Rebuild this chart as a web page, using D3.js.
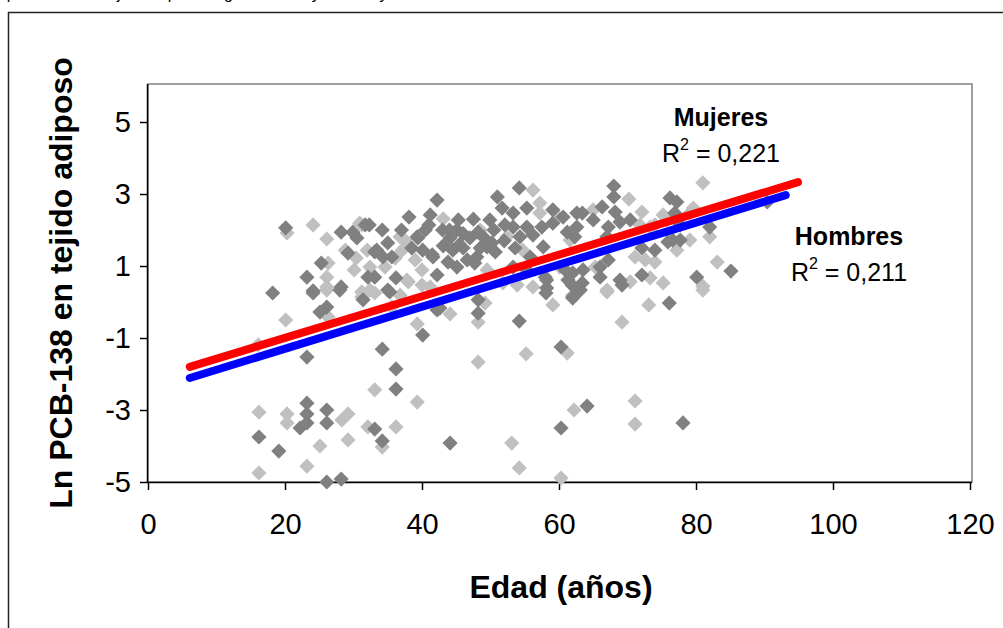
<!DOCTYPE html>
<html><head><meta charset="utf-8">
<script src="https://cdn.jsdelivr.net/npm/d3@7"></script>
<style>
html,body{margin:0;padding:0;background:#fff;}
svg{display:block;font-family:Arial,"Liberation Sans",sans-serif;}
</style></head>
<body>
<svg id="chart" width="1003" height="628"></svg>
<script>
// ---- data ----
const xTicks = [0, 20, 40, 60, 80, 100, 120];
const yTicks = [-5, -3, -1, 1, 3, 5];
const xTitle = "Edad (años)";
const yTitle = "Ln PCB-138 en tejido adiposo";
const topCaption = "presentes en tejido adiposo según la edad y el sexo y";

// dark grey points [edad, ln PCB-138]
const darkPoints = [
 [16.2,-3.75],[19.1,-4.14],[23.2,-1.53],[23.2,-2.81],[23.2,-3.11],[23.2,-3.36],[22.2,-3.5],
 [26.1,-3.0],[26.1,-3.36],[26.1,-5.0],[28.2,-4.92],[33.1,-3.53],[34.2,-3.86],[34.2,-1.31],
 [36.2,-1.86],[36.2,-2.42],[40.1,-0.92],[25.1,-0.28],[26.1,-0.14],[18.2,0.25],[24.1,0.25],
 [28.0,0.33],[35.3,0.28],[42.2,-0.22],[48.2,0.06],[48.2,-0.31],[42.6,-0.17],[54.2,-0.53],
 [60.3,-1.25],[62.0,0.11],[58.1,0.25],[76.1,-0.03],[44.1,-3.92],[60.3,-3.5],[64.1,-2.89],
 [78.1,-3.36],[31.4,0.06],
 [20.1,2.06],[28.2,1.94],[29.9,1.94],[30.5,1.78],[31.7,2.14],[29.2,1.36],[25.3,1.08],
 [23.2,0.69],[24.1,0.31],[28.2,0.42],[32.1,0.69],[38.1,2.36],[42.2,2.83],[41.2,2.42],
 [41.0,2.14],[45.3,2.28],[45.1,2.0],[44.1,1.78],[43.1,1.56],[39.4,1.78],[40.1,1.44],
 [32.3,2.14],[34.2,2.0],[33.4,1.44],[35.0,1.64],[35.6,1.25],[33.1,0.69],[36.2,0.67],
 [42.2,0.75],[41.6,1.25],[45.1,0.97],[43.8,1.11],[47.0,1.78],[46.6,1.17],[47.7,1.08],
 [48.2,1.94],[50.2,1.64],[49.9,2.28],[51.0,2.92],[51.7,2.61],[52.1,2.14],[53.3,2.08],
 [53.6,1.5],[55.3,2.61],[55.3,2.08],[54.2,3.17],[56.2,1.86],[57.5,2.08],[59.1,2.56],
 [59.1,2.19],[60.6,2.36],[61.2,1.94],[62.6,2.47],[62.3,1.81],[55.8,1.25],[50.7,1.39],
 [49.5,1.53],[44.5,1.44],[58.2,0.39],[58.0,0.69],[60.9,0.89],[61.3,0.61],[35.0,0.33],
 [39.3,1.81],[33.1,1.39],[34.3,1.25],[41.5,1.31],[46.0,1.5],[48.0,1.25],[53.3,2.47],
 [54.3,1.81],[53.3,0.97],[55.3,0.89],
 [44.0,2.0],[46.0,1.9],[47.5,2.3],[49.0,1.8],[50.5,2.0],[52.0,1.7],[45.5,1.6],[48.5,1.5],
 [43.0,2.0],[40.5,2.0],[38.5,1.5],[37.0,2.0],
 [68.0,3.22],[68.0,2.92],[66.3,2.64],[63.4,2.47],[65.0,2.28],[68.2,2.5],[68.9,2.22],
 [67.2,2.08],[70.4,2.28],[76.2,2.89],[77.2,2.78],[76.9,2.47],[77.7,2.14],[82.0,2.08],
 [76.6,1.72],[75.9,1.67],[74.0,1.44],[72.1,1.5],[67.2,1.17],[66.0,0.97],[66.0,0.69],
 [68.9,0.61],[69.2,0.47],[72.1,0.75],[80.1,0.69],[85.1,0.86],[62.0,0.81],[63.4,0.53],
 [62.0,0.14],[62.6,2.08],[90.4,2.78],[77.7,1.72],[57.7,1.53],[67.0,1.81],[63.5,0.89],
 [58.2,0.61],[61.9,0.47],[63.1,0.33]
];

// light grey points [edad, ln PCB-138]
const lightPoints = [
 [16.2,-3.06],[16.2,-4.75],[20.1,-0.5],[16.1,-1.19],[20.3,-3.11],[20.3,-3.36],[23.2,-4.56],
 [28.3,-3.28],[29.2,-3.11],[25.1,-4.0],[29.2,-3.83],[32.1,-3.47],[34.2,-4.03],[36.2,-3.47],
 [33.1,-2.44],[39.3,-2.78],[39.3,-0.61],[26.1,0.33],[31.2,0.14],[33.1,0.25],[36.8,0.19],
 [49.2,-0.03],[48.2,-0.56],[44.1,-0.33],[48.2,-1.67],[55.2,-1.44],[61.2,-1.42],[59.1,-0.08],
 [67.0,0.28],[69.2,-0.56],[73.1,-0.08],[81.0,0.33],[53.1,-3.92],[54.2,-4.61],[60.3,-4.89],
 [62.2,-3.0],[71.1,-2.75],[71.1,-3.39],
 [20.3,1.92],[24.1,2.14],[26.1,1.75],[30.9,2.19],[30.4,1.22],[30.1,0.89],[26.3,1.08],
 [26.1,0.69],[26.1,0.42],[31.2,0.28],[26.3,-0.42],[32.0,1.44],[43.1,2.31],[37.5,1.72],
 [37.1,1.44],[31.2,2.14],[32.4,0.97],[34.6,0.97],[38.0,0.56],[40.0,0.47],[39.0,1.17],
 [48.5,2.0],[52.4,1.81],[56.2,3.11],[57.2,2.75],[57.2,2.47],[59.9,2.36],[61.6,1.72],
 [54.7,1.44],[53.9,0.47],[56.2,0.42],[60.1,0.97],[62.0,0.19],[41.2,0.42],[35.6,-0.14],
 [36.8,1.81],[28.8,1.44],[36.1,1.22],[49.5,0.89],[40.0,0.89],[37.8,0.61],[32.4,0.33],
 [51.8,0.53],
 [70.2,2.86],[72.1,2.5],[71.8,2.14],[75.2,2.42],[79.1,2.47],[74.0,2.14],[82.0,1.81],
 [79.1,1.72],[71.1,1.25],[72.6,1.17],[74.0,1.11],[77.2,1.44],[65.3,0.97],[67.0,0.33],
 [70.4,0.56],[73.3,0.67],[75.2,0.53],[81.0,0.44],[83.1,1.11],[63.1,0.33],[81.0,3.31],
 [79.6,2.61],[65.0,2.56],[73.3,2.08],[75.8,2.28]
];

// linear trend lines: [x start, y start, x end, y end]
const trendHombres = [6.1, -2.11, 93.1, 2.97];
const trendMujeres = [6.1, -1.80, 94.9, 3.33];
const labelMujeres = ["Mujeres", "0,221"];
const labelHombres = ["Hombres", "0,211"];

// ---- drawing ----
const svg = d3.select("#chart");
const x = d3.scaleLinear().domain([0, 120]).range([148, 970]);
const y = d3.scaleLinear().domain([-5, 6]).range([482, 86]);
const FONT = "Arial, 'Liberation Sans', sans-serif";

// outer frame
svg.append("rect").attr("x", 8.5).attr("y", 12.5).attr("width", 1010).attr("height", 630)
  .attr("fill", "none").attr("stroke", "#222").attr("stroke-width", 1.5);

// cut-off caption at top (as in the reference, only its lower part is visible)
svg.append("text").attr("x", 8).attr("y", -1).attr("font-style", "italic")
  .attr("font-size", 16).attr("fill", "#000").text(topCaption);

// plot area frame
svg.append("rect").attr("x", x(0)).attr("y", y(6) - 2).attr("width", x(120) + 2 - x(0))
  .attr("height", y(-5) - y(6) + 2).attr("fill", "none").attr("stroke", "#808080").attr("stroke-width", 1.5);

// axes
const yAxis = d3.axisLeft(y).tickValues(yTicks).tickSize(8).tickPadding(9)
  .tickFormat(d => d < 0 ? "-" + Math.abs(d) : d);
const gy = svg.append("g").attr("transform", `translate(${x(0)},0)`).call(yAxis);
gy.select(".domain").attr("d", `M-0.5,${y(6)-2}V${y(-5)}`).attr("stroke", "#000").attr("stroke-width", 1.5);
gy.selectAll(".tick line").attr("stroke", "#000").attr("stroke-width", 1.5);
gy.selectAll(".tick text").attr("font-size", 29).attr("font-family", FONT).attr("fill", "#000");

const xAxis = d3.axisBottom(x).tickValues(xTicks).tickSize(8).tickPadding(23);
const gx = svg.append("g").attr("transform", `translate(0,${y(-5)})`).call(xAxis);
gx.select(".domain").attr("d", `M${x(0)},0.5H${x(120)+2}`).attr("stroke", "#000").attr("stroke-width", 1.5);
gx.selectAll(".tick line").attr("stroke", "#000").attr("stroke-width", 1.5);
gx.selectAll(".tick text").attr("font-size", 29).attr("font-family", FONT).attr("fill", "#000");

// points
const diamond = r => `M0,${-r}L${r},0L0,${r}L${-r},0Z`;
svg.append("g").selectAll("path").data(lightPoints).join("path")
  .attr("d", diamond(7.6)).attr("transform", d => `translate(${x(d[0])},${y(d[1])})`)
  .attr("fill", "#c0c0c0");
svg.append("g").selectAll("path").data(darkPoints).join("path")
  .attr("d", diamond(7.6)).attr("transform", d => `translate(${x(d[0])},${y(d[1])})`)
  .attr("fill", "#808080");

// trend lines
function trend(t, color) {
  svg.append("line").attr("x1", x(t[0])).attr("y1", y(t[1])).attr("x2", x(t[2])).attr("y2", y(t[3]))
    .attr("stroke", color).attr("stroke-width", 8).attr("stroke-linecap", "round");
}
trend(trendHombres, "#0000ff");
trend(trendMujeres, "#ff0000");

// annotations
function annot(lbl, cx, by) {
  svg.append("text").attr("x", cx).attr("y", by).attr("text-anchor", "middle")
    .attr("font-size", 25).attr("font-weight", "bold").attr("fill", "#000").text(lbl[0]);
  const t = svg.append("text").attr("x", cx).attr("y", by + 36).attr("text-anchor", "middle")
    .attr("font-size", 25).attr("fill", "#000");
  t.append("tspan").text("R");
  t.append("tspan").attr("font-size", 16).attr("dy", -12).text("2");
  t.append("tspan").attr("dy", 12).text(" = " + lbl[1]);
}
annot(labelMujeres, 721, 126);
annot(labelHombres, 849, 245);

// axis titles
svg.append("text").attr("x", 561).attr("y", 598).attr("text-anchor", "middle")
  .attr("font-size", 32).attr("font-weight", "bold").attr("fill", "#000").text(xTitle);
svg.append("text").attr("transform", "translate(72,283) rotate(-90)").attr("text-anchor", "middle")
  .attr("font-size", 32).attr("font-weight", "bold").attr("fill", "#000").text(yTitle);
</script>
</body></html>
